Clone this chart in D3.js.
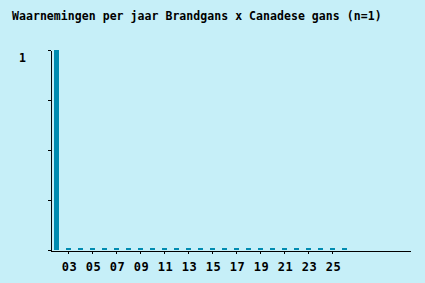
<!DOCTYPE html>
<html>
<head>
    <meta charset="utf-8">
    <title>Waarnemingen per jaar</title>
    <script src="https://d3js.org/d3.v7.min.js"></script>
    <style>
        body { margin: 0; background: #c6eff8; }
        svg { display: block; }
        text { font-family: "DejaVu Sans Mono", "Liberation Mono", monospace; font-weight: bold; }
    </style>
</head>
<body>
<svg id="chart" width="425" height="283"></svg>

<script>
    var title = "Waarnemingen per jaar Brandgans x Canadese gans (n=1)";

    // jaren 2002..2026, alleen 2002 heeft een waarneming
    var years = d3.range(2002, 2027);
    var counts = [1, 0, 0, 0, 0, 0, 0, 0, 0, 0, 0, 0, 0, 0, 0, 0, 0, 0, 0, 0, 0, 0, 0, 0, 0];
    var slotYears = d3.range(2002, 2032);
    var xTickYears = [2003, 2005, 2007, 2009, 2011, 2013, 2015, 2017, 2019, 2021, 2023, 2025];
    var yTicks = [0, 0.25, 0.5, 0.75, 1];

    var svg = d3.select("#chart");

    var x = d3.scaleBand()
        .domain(slotYears)
        .range([50, 410]);

    var y = d3.scaleLinear()
        .domain([0, 1])
        .range([250, 50]);

    svg.append("text")
        .attr("x", 12)
        .attr("y", 20)
        .style("font-size", "11.5px")
        .style("letter-spacing", "0.05px")
        .text(title);

    svg.append("g")
        .selectAll("rect")
        .data(years)
        .enter().append("rect")
        .attr("x", function(d) { return x(d) + 4; })
        .attr("width", 5)
        .attr("y", function(d, i) { return Math.min(y(counts[i]), 248); })
        .attr("height", function(d, i) { return Math.max(250 - y(counts[i]), 2); })
        .style("fill", "#008bb0");

    var xAxis = svg.append("g")
        .attr("transform", "translate(0,250.5)")
        .call(d3.axisBottom(x)
            .tickValues(xTickYears)
            .tickSize(3)
            .tickSizeOuter(0)
            .tickFormat(function(d) { return String(d).slice(2); }));

    xAxis.selectAll("text")
        .attr("y", 20)
        .attr("dy", 0)
        .attr("dx", 1.5)
        .style("font-size", "12px")
        .style("letter-spacing", "0.6px")
        .style("fill", "#000");

    var yAxis = svg.append("g")
        .attr("transform", "translate(50.5,0)")
        .call(d3.axisLeft(y)
            .tickValues(yTicks)
            .tickSize(3)
            .tickSizeOuter(0)
            .tickFormat(function(d) { return d === 1 ? "1" : ""; }));

    yAxis.selectAll("text")
        .attr("x", -28)
        .attr("dy", 11)
        .attr("text-anchor", "middle")
        .style("font-size", "11.5px")
        .style("fill", "#000");

    svg.selectAll(".domain, .tick line")
        .style("stroke", "#000")
        .style("shape-rendering", "crispEdges");
</script>
</body>
</html>
